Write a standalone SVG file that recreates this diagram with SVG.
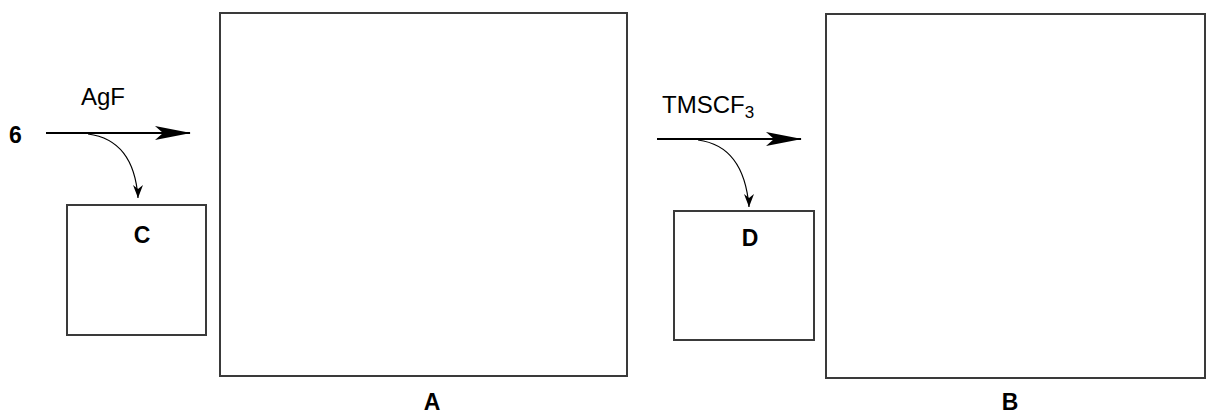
<svg xmlns="http://www.w3.org/2000/svg" width="1224" height="414" viewBox="0 0 1224 414">
<style>
.box{fill:#fff;stroke:#3a3a3a;stroke-width:2}
.ln{fill:none;stroke:#000;stroke-width:1.8}
.cv{fill:none;stroke:#000;stroke-width:1.2}
.t{font-family:"Liberation Sans",Arial,sans-serif;font-size:24px;fill:#000}
.b{font-family:"Liberation Sans",Arial,sans-serif;font-size:23px;font-weight:bold;fill:#000}
</style>
<defs>
<marker id="big2" markerWidth="36" markerHeight="14" refX="35" refY="7" orient="auto" markerUnits="userSpaceOnUse">
<path d="M0,0 L36,7 L0,14 L8,7 Z" fill="#000"/>
</marker>
<marker id="sm" markerWidth="10" markerHeight="14" refX="5" refY="13" orient="0" markerUnits="userSpaceOnUse">
<path d="M0,0 L5,13 L10,0 L5,4 Z" fill="#000"/>
</marker>
</defs>
<g id="connectors">
<line class="ln" x1="46" y1="133" x2="190" y2="133" marker-end="url(#big2)"/>
<path class="cv" d="M88,134 Q134,140 138,198" marker-end="url(#sm)"/>
<line class="ln" x1="657" y1="139" x2="801" y2="139" marker-end="url(#big2)"/>
<path class="cv" d="M698,140 Q744,146 749,207" marker-end="url(#sm)"/>
</g>
<g id="node-6"><text class="b" x="9" y="143">6</text></g>
<g id="label-agf"><text class="t" x="81" y="105">AgF</text></g>
<g id="label-tmscf3"><text class="t" x="662" y="113">TMSCF<tspan font-size="17" dy="5">3</tspan></text></g>
<g id="node-C"><rect class="box" x="67" y="205" width="139" height="130"/><text class="b" x="142" y="243" text-anchor="middle">C</text></g>
<g id="node-A"><rect class="box" x="220" y="13" width="407" height="363"/><text class="b" x="432" y="410" text-anchor="middle">A</text></g>
<g id="node-D"><rect class="box" x="674" y="211" width="140" height="129"/><text class="b" x="750" y="246" text-anchor="middle">D</text></g>
<g id="node-B"><rect class="box" x="826" y="14" width="379" height="364"/><text class="b" x="1010" y="410" text-anchor="middle">B</text></g>
</svg>
